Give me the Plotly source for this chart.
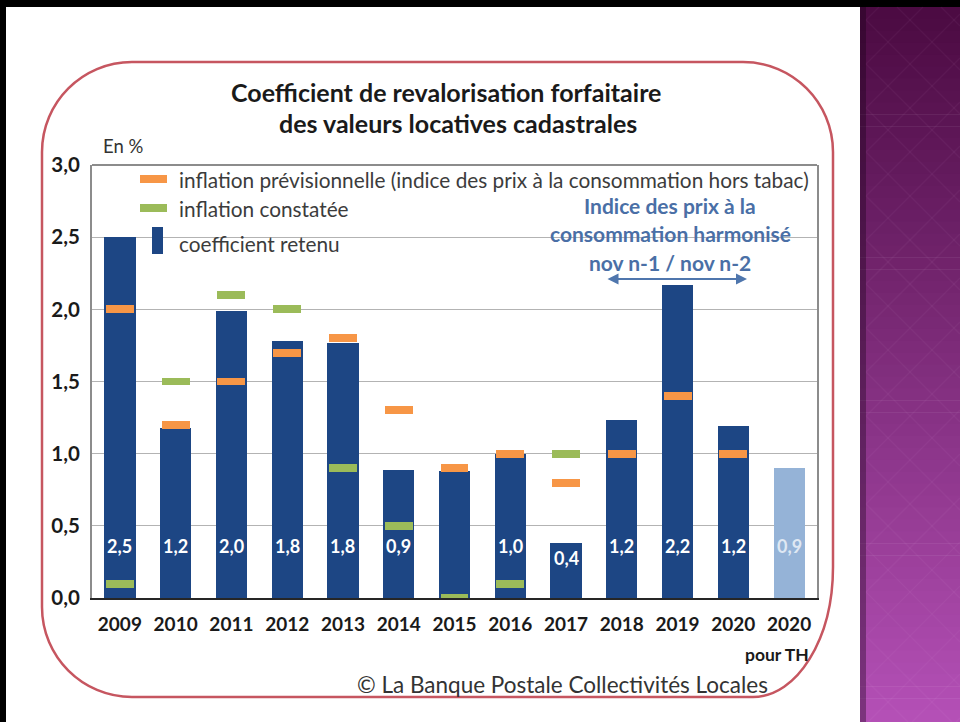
import plotly.graph_objects as go

# ---------------- data ----------------
years = ["2009", "2010", "2011", "2012", "2013", "2014", "2015", "2016",
         "2017", "2018", "2019", "2020", "2020"]
coef_retenu = [2.5, 1.18, 1.99, 1.78, 1.77, 0.885, 0.88, 1.0, 0.38, 1.23, 2.17, 1.19, 0.9]
coef_labels = ["2,5", "1,2", "2,0", "1,8", "1,8", "0,9", "", "1,0", "0,4", "1,2", "2,2", "1,2", "0,9"]
infl_prev = [2.0, 1.2, 1.5, 1.7, 1.8, 1.3, 0.9, 1.0, 0.8, 1.0, 1.4, 1.0, None]
infl_const = [0.1, 1.5, 2.1, 2.0, 0.9, 0.5, 0.0, 0.1, 1.0, None, None, None, None]
y_ticks = [0, 0.5, 1.0, 1.5, 2.0, 2.5, 3.0]
y_tick_text = ["0,0", "0,5", "1,0", "1,5", "2,0", "2,5", "3,0"]

# ---------------- layout geometry ----------------
W, H = 960, 722
L, R, T, B = 92, 143, 165, 124
PW, PH = W - L - R, H - T - B


def X(px):
    return (px - L) / PW


def Y(py):
    return (H - B - py) / PH


NAVY = "#1d4684"
LIGHT = "#95b3d7"
ORANGE = "#f79646"
GREEN = "#9bbb59"
FONT = "Lato"

xs = list(range(len(years)))
bar_colors = [NAVY] * (len(years) - 1) + [LIGHT]
thick = 0.055

fig = go.Figure()
fig.add_trace(go.Bar(x=xs, y=coef_retenu, width=0.56, marker=dict(color=bar_colors, line=dict(width=0)),
                     showlegend=False, hoverinfo="y"))


def dash_trace(vals, color):
    xx = [i for i, v in enumerate(vals) if v is not None]
    vv = [v for v in vals if v is not None]
    return go.Bar(x=xx, y=[thick] * len(vv), base=[v - thick / 2 for v in vv], width=0.5,
                  marker=dict(color=color, line=dict(width=0)), showlegend=False,
                  hovertext=[str(v) for v in vv], hoverinfo="text")


fig.add_trace(dash_trace(infl_prev, ORANGE))
fig.add_trace(dash_trace(infl_const, GREEN))

annotations = []
# value labels inside bars
for i, (v, lab) in enumerate(zip(coef_retenu, coef_labels)):
    if not lab:
        continue
    annotations.append(dict(x=i, y=min(0.36, v - 0.1), xref="x", yref="y", text="<b>%s</b>" % lab,
                            showarrow=False, font=dict(family=FONT, size=18,
                                                        color="#dfe8f3" if i == len(years) - 1 else "white")))

shapes = []
# black frame lines
shapes.append(dict(type="rect", xref="paper", yref="paper", x0=X(0), x1=X(W), y0=Y(0), y1=Y(7),
                   fillcolor="black", line=dict(width=0), layer="below"))
shapes.append(dict(type="rect", xref="paper", yref="paper", x0=X(0), x1=X(6), y0=Y(0), y1=Y(H),
                   fillcolor="black", line=dict(width=0), layer="below"))

# purple panel gradient
top_c = (0x4c, 0x0b, 0x43)
bot_c = (0xb4, 0x50, 0xb6)
n = 60
y_start, y_end = 7, H
for k in range(n):
    t = k / (n - 1)
    c = tuple(int(top_c[j] + (bot_c[j] - top_c[j]) * t) for j in range(3))
    ya = y_start + (y_end - y_start) * k / n
    yb = y_start + (y_end - y_start) * (k + 1) / n + 0.6
    shapes.append(dict(type="rect", xref="paper", yref="paper", x0=X(860), x1=X(W), y0=Y(ya), y1=Y(yb),
                       fillcolor="rgb(%d,%d,%d)" % c, line=dict(width=0), layer="below"))
# shadow at left edge of panel
shapes.append(dict(type="rect", xref="paper", yref="paper", x0=X(860), x1=X(866), y0=Y(7), y1=Y(H),
                   fillcolor="rgba(20,0,20,0.35)", line=dict(width=0), layer="below"))

# diamond lattice on panel
step = 44
x_lo, x_hi, y_lo, y_hi = 866, W, 7, H


def clip(xa, ya, xb, yb):
    if ya < y_lo:
        xa = xa + (y_lo - ya) / (yb - ya) * (xb - xa); ya = y_lo
    if ya > y_hi:
        xa = xa + (y_hi - ya) / (yb - ya) * (xb - xa); ya = y_hi
    return xa, ya


for c0 in range(-200, 900, step):
    for sgn in (1, -1):
        xa, ya = x_lo, c0
        xb, yb = x_hi, c0 + sgn * (x_hi - x_lo)
        xa2, ya2 = clip(xa, ya, xb, yb)
        xb2, yb2 = clip(xb, yb, xa, ya)
        if not (y_lo <= ya2 <= y_hi and y_lo <= yb2 <= y_hi) or abs(xb2 - xa2) < 1:
            continue
        shapes.append(dict(type="line", xref="paper", yref="paper", x0=X(xa2), y0=Y(ya2), x1=X(xb2), y1=Y(yb2),
                           line=dict(color="rgba(255,220,255,0.045)", width=1.5), layer="below"))


# rounded red frame
def rounded_path(x0, y0, x1, y1, radii):
    k = 0.5523
    (tl, tr, br, bl) = radii
    p = []
    p.append("M %f,%f" % (X(x0 + tl[0]), Y(y0)))
    p.append("L %f,%f" % (X(x1 - tr[0]), Y(y0)))
    p.append("C %f,%f %f,%f %f,%f" % (X(x1 - tr[0] + k * tr[0]), Y(y0), X(x1), Y(y0 + tr[1] - k * tr[1]),
                                     X(x1), Y(y0 + tr[1])))
    p.append("L %f,%f" % (X(x1), Y(y1 - br[1])))
    p.append("C %f,%f %f,%f %f,%f" % (X(x1), Y(y1 - br[1] + k * br[1]), X(x1 - br[0] + k * br[0]), Y(y1),
                                     X(x1 - br[0]), Y(y1)))
    p.append("L %f,%f" % (X(x0 + bl[0]), Y(y1)))
    p.append("C %f,%f %f,%f %f,%f" % (X(x0 + bl[0] - k * bl[0]), Y(y1), X(x0), Y(y1 - bl[1] + k * bl[1]),
                                     X(x0), Y(y1 - bl[1])))
    p.append("L %f,%f" % (X(x0), Y(y0 + tl[1])))
    p.append("C %f,%f %f,%f %f,%f" % (X(x0), Y(y0 + tl[1] - k * tl[1]), X(x0 + tl[0] - k * tl[0]), Y(y0),
                                     X(x0 + tl[0]), Y(y0)))
    p.append("Z")
    return " ".join(p)


shapes.append(dict(type="path", xref="paper", yref="paper",
                   path=rounded_path(42, 62, 833, 697, [(90, 90), (90, 90), (80, 130), (90, 90)]),
                   line=dict(color="#c65660", width=2.5), fillcolor="rgba(0,0,0,0)", layer="below"))

# top border of plot area
shapes.append(dict(type="line", xref="paper", yref="paper", x0=0, x1=1, y0=1, y1=1,
                   line=dict(color="#8c8c8c", width=2)))

# custom legend swatches
shapes.append(dict(type="rect", xref="paper", yref="paper", x0=X(140), x1=X(167), y0=Y(175), y1=Y(183),
                   fillcolor=ORANGE, line=dict(width=0)))
shapes.append(dict(type="rect", xref="paper", yref="paper", x0=X(140), x1=X(167), y0=Y(204), y1=Y(212),
                   fillcolor=GREEN, line=dict(width=0)))
shapes.append(dict(type="rect", xref="paper", yref="paper", x0=X(152), x1=X(163), y0=Y(227), y1=Y(254),
                   fillcolor=NAVY, line=dict(width=0)))

legend_texts = ["inflation prévisionnelle (indice des prix à la consommation hors tabac)",
                "inflation constatée", "coefficient retenu"]
for txt, yy in zip(legend_texts, [179, 208, 243]):
    annotations.append(dict(x=X(177), y=Y(yy), xref="paper", yref="paper", text=txt, showarrow=False,
                            xanchor="left", yanchor="middle", font=dict(family=FONT, size=20.8, color="#3c3c3c")))

# title
annotations.append(dict(x=X(446), y=Y(92), xref="paper", yref="paper",
                        text="<b>Coefficient de revalorisation forfaitaire</b>", showarrow=False,
                        xanchor="center", yanchor="middle", font=dict(family=FONT, size=25, color="#1a1a1a")))
annotations.append(dict(x=X(458), y=Y(123), xref="paper", yref="paper",
                        text="<b>des valeurs locatives cadastrales</b>", showarrow=False,
                        xanchor="center", yanchor="middle", font=dict(family=FONT, size=25, color="#1a1a1a")))
annotations.append(dict(x=X(101), y=Y(146), xref="paper", yref="paper", text="En %", showarrow=False,
                        xanchor="left", yanchor="middle", font=dict(family=FONT, size=18.5, color="#333333")))

# harmonised index note
blue_lines = ["Indice des prix à la", "consommation harmonisé", "nov n-1 / nov n-2"]
for txt, yy in zip(blue_lines, [205, 233, 262]):
    annotations.append(dict(x=X(670), y=Y(yy), xref="paper", yref="paper", text="<b>%s</b>" % txt,
                            showarrow=False, xanchor="center", yanchor="middle",
                            font=dict(family=FONT, size=21, color="#4a6fa6")))
annotations.append(dict(x=X(747), y=Y(279), xref="paper", yref="paper", ax=606 - 747, ay=0,
                        text="", showarrow=True, arrowside="end+start",
                        arrowhead=2, arrowsize=1.1, arrowwidth=2, arrowcolor="#4f76ad"))

# "pour TH" and source
annotations.append(dict(x=X(811), y=Y(654), xref="paper", yref="paper", text="<b>pour TH</b>",
                        showarrow=False, xanchor="right", yanchor="middle",
                        font=dict(family=FONT, size=17.5, color="#1a1a1a")))
annotations.append(dict(x=X(562), y=Y(684), xref="paper", yref="paper",
                        text="© La Banque Postale Collectivités Locales", showarrow=False,
                        xanchor="center", yanchor="middle", font=dict(family=FONT, size=22.5, color="#333333")))

fig.update_layout(
    width=W, height=H,
    margin=dict(l=L, r=R, t=T, b=B, pad=0),
    paper_bgcolor="white", plot_bgcolor="white",
    barmode="overlay", bargap=0,
    showlegend=False,
    shapes=shapes, annotations=annotations,
    xaxis=dict(range=[-0.5, len(years) - 0.5], tickmode="array", tickvals=xs,
               ticktext=["<b>%s</b>" % y for y in years], showgrid=False, zeroline=False,
               showline=True, linecolor="#262626", linewidth=2, ticks="", ticklabelstandoff=8,
               tickfont=dict(family=FONT, size=19, color="#1a1a1a"), fixedrange=True),
    yaxis=dict(range=[0, 3.0], tickmode="array", tickvals=y_ticks,
               ticktext=["<b>%s</b>" % t for t in y_tick_text], showgrid=True, gridcolor="#b3b3b3",
               gridwidth=1, zeroline=False, showline=True, linecolor="#8c8c8c", linewidth=2, mirror=True,
               ticks="", ticklabelstandoff=6, tickfont=dict(family=FONT, size=20.5, color="#1a1a1a"),
               fixedrange=True),
)

fig.write_html("out.html", config={"displayModeBar": False},
               post_script="document.body.style.margin='0';document.documentElement.style.overflow='hidden';")
